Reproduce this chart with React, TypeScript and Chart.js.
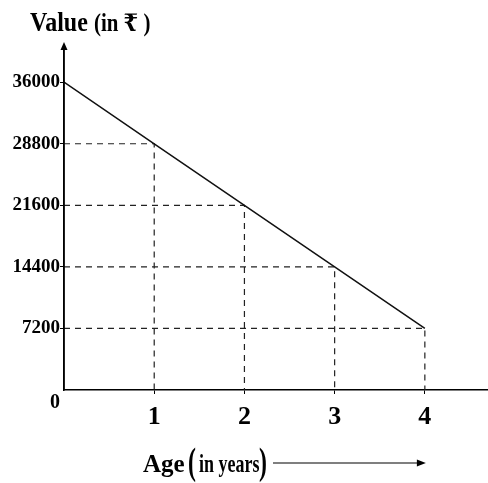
import React, { useEffect, useRef } from "react";
import { Chart, registerables } from "chart.js";

Chart.register(...registerables);

const ages = [0, 1, 2, 3, 4];
const values = [36000, 28800, 21600, 14400, 7200];
const yTicks = [7200, 14400, 21600, 28800, 36000];
const xTicks = [1, 2, 3, 4];
const yTitle = "Value (in ₹ )";
const xTitleA = "Age";
const xTitleB = "in years";

const SERIF = '"Liberation Serif", "DejaVu Serif", serif';

const decorPlugin = {
  id: "decor",
  afterDraw(chart: any) {
    const { ctx, chartArea, scales } = chart;
    const x0 = scales.x.getPixelForValue(0);
    const y0 = scales.y.getPixelForValue(0);
    ctx.save();
    ctx.fillStyle = "#000";
    ctx.strokeStyle = "#000";
    // y axis arrow
    ctx.lineWidth = 1.5;
    ctx.beginPath();
    ctx.moveTo(x0, y0);
    ctx.lineTo(x0, chartArea.top - 2);
    ctx.stroke();
    ctx.beginPath();
    ctx.moveTo(x0, chartArea.top - 6);
    ctx.lineTo(x0 - 3.5, chartArea.top + 2);
    ctx.lineTo(x0 + 3.5, chartArea.top + 2);
    ctx.closePath();
    ctx.fill();
    // origin label
    ctx.font = `bold 20px ${SERIF}`;
    ctx.textAlign = "center";
    ctx.textBaseline = "middle";
    ctx.fillText("0", x0 - 9, y0 + 13);
    // top title
    ctx.textAlign = "left";
    ctx.textBaseline = "alphabetic";
    ctx.save();
    ctx.translate(30, 31);
    ctx.scale(1.0, 1.1);
    ctx.font = `bold 24px ${SERIF}`;
    ctx.fillText("Value", 0, 0);
    ctx.restore();
    ctx.save();
    ctx.translate(94, 31);
    ctx.scale(0.95, 1.1);
    ctx.font = `bold 22px ${SERIF}`;
    ctx.fillText(yTitle.replace("Value ", ""), 0, 0);
    ctx.restore();
    // x title
    const by = 463;
    ctx.font = `bold 25px ${SERIF}`;
    ctx.save();
    ctx.translate(143, by + 9);
    ctx.scale(1.0, 1.05);
    ctx.fillText(xTitleA, 0, 0);
    ctx.restore();
    ctx.font = `bold 34px ${SERIF}`;
    ctx.save();
    ctx.translate(188, by + 11);
    ctx.scale(0.7, 1.1);
    ctx.fillText("(", 0, 0);
    ctx.restore();
    ctx.font = `bold 25px ${SERIF}`;
    ctx.save();
    ctx.translate(199, by + 9);
    ctx.scale(0.72, 1.05);
    ctx.fillText(xTitleB, 0, 0);
    ctx.restore();
    ctx.font = `bold 34px ${SERIF}`;
    ctx.save();
    ctx.translate(259, by + 11);
    ctx.scale(0.7, 1.1);
    ctx.fillText(")", 0, 0);
    ctx.restore();
    // x title arrow
    const ax = scales.x.getPixelForValue(4);
    ctx.lineWidth = 1.2;
    ctx.beginPath();
    ctx.moveTo(273, by);
    ctx.lineTo(ax - 4, by);
    ctx.stroke();
    ctx.beginPath();
    ctx.moveTo(ax + 1, by);
    ctx.lineTo(ax - 8, by - 3.5);
    ctx.lineTo(ax - 8, by + 3.5);
    ctx.closePath();
    ctx.fill();
    ctx.restore();
  },
};

export default function App() {
  const ref = useRef<HTMLCanvasElement | null>(null);
  useEffect(() => {
    document.body.style.margin = "0";
    const guides = ages.slice(1).map((a, i) => ({
      label: "guide" + i,
      data: [
        { x: 0, y: values[i + 1] },
        { x: a, y: values[i + 1] },
        { x: a, y: 0 },
      ],
      borderColor: "#222",
      borderWidth: 1.2,
      borderDash: [6, 5],
      pointRadius: 0,
      fill: false,
    }));
    const chart = new Chart(ref.current as HTMLCanvasElement, {
      type: "line",
      data: {
        datasets: [
          {
            label: "Value",
            data: ages.map((a, i) => ({ x: a, y: values[i] })),
            borderColor: "#111",
            borderWidth: 1.5,
            pointRadius: 0,
            fill: false,
          },
          ...guides,
        ],
      },
      options: {
        animation: false,
        responsive: true,
        maintainAspectRatio: false,
        layout: { padding: { top: 48, right: 0, left: 0, bottom: 0 } },
        plugins: { legend: { display: false }, tooltip: { enabled: false }, title: { display: false } },
        scales: {
          x: {
            type: "linear",
            min: 0,
            max: 4.7,
            afterBuildTicks: (s: any) => {
              s.ticks = xTicks.map((v) => ({ value: v }));
            },
            afterFit: (s: any) => {
              s.height = 93;
            },
            grid: { drawOnChartArea: false, drawTicks: true, tickLength: 4, color: "#000" },
            border: { display: true, color: "#000", width: 1.5 },
            ticks: {
              color: "#000",
              padding: 8,
              maxRotation: 0,
              callback: (v: any) => String(v),
              font: { family: SERIF, size: 26, weight: "bold" },
            },
          },
          y: {
            type: "linear",
            min: 0,
            max: 40000,
            afterBuildTicks: (s: any) => {
              s.ticks = yTicks.map((v) => ({ value: v }));
            },
            afterFit: (s: any) => {
              s.width = 64;
            },
            grid: { drawOnChartArea: false, drawTicks: true, tickLength: 4, color: "#000" },
            border: { display: true, color: "#000", width: 1.5 },
            ticks: {
              color: "#000",
              padding: 0,
              callback: (v: any) => String(v),
              font: { family: SERIF, size: 19, weight: "bold" },
            },
          },
        },
      },
      plugins: [decorPlugin],
    } as any);
    return () => chart.destroy();
  }, []);
  return (
    <div style={{ position: "absolute", left: 0, top: 0, width: 488, height: 483 }}>
      <canvas ref={ref} />
    </div>
  );
}
